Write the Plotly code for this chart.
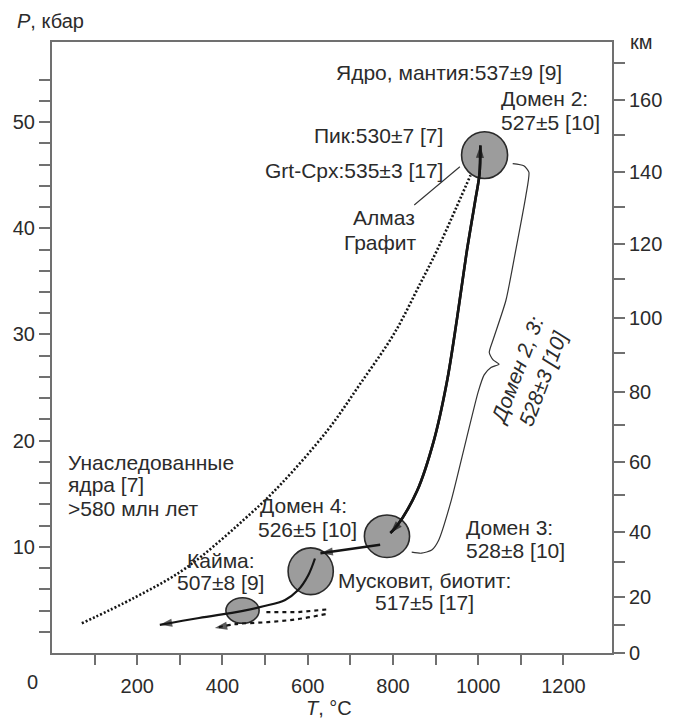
import plotly.graph_objects as go

# ---------------- data ----------------
# diamond/graphite boundary (dotted)
dot_T = [70, 193, 314, 468, 537, 647, 724, 803, 864, 903, 982]
dot_P = [2.8, 5.2, 8.0, 13.2, 15.9, 21.0, 25.4, 30.1, 34.8, 37.9, 45.0]

# steep path (domain 3 <-> peak)
steep_T = [794, 810, 857, 896, 926, 950, 972, 993, 1003, 1005]
steep_P = [11.3, 12.0, 15.3, 20.0, 25.4, 31.4, 37.5, 42.6, 45.1, 47.8]

# domain 3 -> domain 4
left_T = [770, 630]
left_P = [10.2, 9.4]

# domain 4 -> rim -> low T
low_T = [617, 601, 577, 547, 496, 445, 345, 253]
low_P = [8.9, 7.3, 5.9, 5.0, 4.4, 3.95, 3.3, 2.65]

# dashed alternative paths
dash1_T = [503, 577, 652]
dash1_P = [3.85, 3.85, 4.13]
dash2_T = [642, 577, 507, 431, 382]
dash2_P = [3.66, 3.19, 2.91, 2.72, 2.36]

# curly brace "Domain 2, 3"
brace_T = [1081, 1107, 1119, 1112, 1088, 1065, 1035, 1026, 1035, 1049,
           1030, 1014, 1000, 972, 937, 907, 891, 867, 844]
brace_P = [46.1, 45.9, 45.3, 43.1, 37.9, 33.2, 29.5, 28.3, 27.6, 27.2,
           26.9, 26.2, 24.6, 20.1, 14.4, 10.6, 9.7, 9.4, 9.5]

# diamond/graphite leader line
lead_T = [850, 957]
lead_P = [42.2, 45.8]

# age domains (ellipses): centre and half-extent
circ_T = [1015, 786, 607, 447]
circ_P = [46.9, 11.0, 7.7, 4.0]
circ_dT = [54, 53, 53, 39]
circ_dP = [2.2, 2.0, 2.2, 1.2]

# axes ticks
x_ticks = list(range(100, 1300, 100))
x_labels = [str(v) if v % 200 == 0 else "" for v in x_ticks]
y_ticks = list(range(2, 56, 2))
y_labels = [str(v) if v % 10 == 0 else "" for v in y_ticks]
km_values = [0, 10, 20, 30, 40, 50, 60, 70, 80, 90, 100, 110, 120, 130, 140, 150, 160, 170]
km_pos_kbar = [0, 2.6, 5.3, 8.6, 11.4, 14.85, 18.0, 21.5, 24.6, 28.3, 31.6, 35.2,
               38.5, 42.0, 45.3, 48.75, 52.1, 55.6]
km_labels = [str(v) if v % 20 == 0 else "" for v in km_values]

# ---------------- figure ----------------
FONT = "Liberation Sans, Arial, sans-serif"
TXT = "#2b2b2b"
AX = "#707070"
LINE = "#151515"
FS = 21
FS_TICK = 20

fig = go.Figure()

for t, p, dt, dp in zip(circ_T, circ_P, circ_dT, circ_dP):
    fig.add_shape(type="circle", xref="x", yref="y",
                  x0=t - dt, x1=t + dt, y0=p - dp, y1=p + dp,
                  fillcolor="#9c9c9c", line=dict(color="#2a2a2a", width=1.6),
                  layer="below")

def arrow_sizes(n, s=13):
    return [0] * (n - 1) + [s]

fig.add_trace(go.Scatter(x=dot_T, y=dot_P, mode="lines",
                         line=dict(color=LINE, width=2.6, dash="2px,2px", shape="spline"),
                         hoverinfo="skip"))
fig.add_trace(go.Scatter(x=lead_T, y=lead_P, mode="lines",
                         line=dict(color="#333", width=1.1), hoverinfo="skip"))
fig.add_trace(go.Scatter(x=brace_T, y=brace_P, mode="lines",
                         line=dict(color="#333", width=1.2, shape="spline", smoothing=0.6),
                         hoverinfo="skip"))

for xs, ys, dash, w in [
    (steep_T, steep_P, "solid", 2.6),
    (steep_T[::-1], steep_P[::-1], "solid", 2.6),
    (left_T, left_P, "solid", 2.4),
    (low_T, low_P, "solid", 2.2),
    (dash2_T, dash2_P, "4px,4px", 2.2),
]:
    fig.add_trace(go.Scatter(
        x=xs, y=ys, mode="lines+markers",
        line=dict(color=LINE, width=w, dash=dash, shape="spline"),
        marker=dict(symbol="arrow", size=arrow_sizes(len(xs)), angleref="previous",
                    color=LINE, line=dict(width=0)),
        hoverinfo="skip"))

fig.add_trace(go.Scatter(x=dash1_T, y=dash1_P, mode="lines",
                         line=dict(color=LINE, width=2.2, dash="4px,4px"),
                         hoverinfo="skip"))

# ---------------- annotations ----------------
def note(text, x, y, xanchor="center", **kw):
    fig.add_annotation(text=text, x=x, y=y, xref="x", yref="y", showarrow=False,
                       xanchor=xanchor, yanchor="middle",
                       font=dict(family=FONT, size=FS, color=TXT), **kw)

note("Ядро, мантия:537±9 [9]", 931, 54.7)
note("Домен 2:", 1050, 52.25, xanchor="left")
note("527±5 [10]", 1050, 50.0, xanchor="left")
note("Пик:530±7 [7]", 922, 48.76, xanchor="right")
note("Grt-Cpx:535±3 [17]", 922, 45.46, xanchor="right")
note("Алмаз", 780, 41.04)
note("Графит", 771, 38.69)
note("Унаследованные", 33, 17.98, xanchor="left")
note("ядра [7]", 33, 15.9, xanchor="left")
note(">580 млн лет", 33, 13.65, xanchor="left")
note("Домен 4:", 589, 13.94)
note("526±5 [10]", 600, 11.67)
note("Кайма:", 396, 8.75)
note("507±8 [9]", 396, 6.68)
note("Домен 3:", 966, 11.85, xanchor="left")
note("528±8 [10]", 966, 9.7, xanchor="left")
note("Мусковит, биотит:", 875, 6.86)
note("517±5 [17]", 875, 4.79)
note("<i>Домен 2, 3:<br>528±3 [10]</i>", 1120, 26.2, textangle=-69)

def pnote(text, x, y, xanchor="center"):
    fig.add_annotation(text=text, x=x, y=y, xref="paper", yref="paper", showarrow=False,
                       xanchor=xanchor, yanchor="middle",
                       font=dict(family=FONT, size=FS_TICK, color=TXT))

pnote("<i>P</i>, кбар", -0.066, 1.035, xanchor="left")
pnote("км", 1.029, 1.0, xanchor="left")
pnote("<i>T</i>, °C", 0.494, -0.090)
pnote("0", -0.0354, -0.0476)

fig.update_layout(
    width=674, height=720,
    margin=dict(l=52, r=58, t=42, b=67),
    paper_bgcolor="white", plot_bgcolor="white",
    showlegend=False,
    font=dict(family=FONT, size=FS_TICK, color=TXT),
    xaxis=dict(range=[0, 1314], tickvals=x_ticks, ticktext=x_labels,
               ticks="outside", ticklen=10, tickwidth=2, tickcolor=AX,
               showline=True, linecolor=AX, linewidth=2, mirror=True,
               showgrid=False, zeroline=False, ticklabelstandoff=4),
    yaxis=dict(range=[0, 57.55], tickvals=y_ticks, ticktext=y_labels,
               ticks="outside", ticklen=11, tickwidth=2, tickcolor=AX,
               showline=True, linecolor=AX, linewidth=2,
               showgrid=False, zeroline=False),
    yaxis2=dict(range=[0, 57.55], overlaying="y", side="right",
                tickvals=km_pos_kbar, ticktext=km_labels,
                ticks="outside", ticklen=11, tickwidth=2, tickcolor=AX,
                showline=True, linecolor=AX, linewidth=2,
                showgrid=False, zeroline=False),
)
# dummy trace to activate the right axis
fig.add_trace(go.Scatter(x=[None], y=[None], yaxis="y2", hoverinfo="skip"))

fig.write_html("out.html",
               config={"displayModeBar": False},
               post_script="document.body.style.margin='0';document.body.style.overflow='hidden';")
